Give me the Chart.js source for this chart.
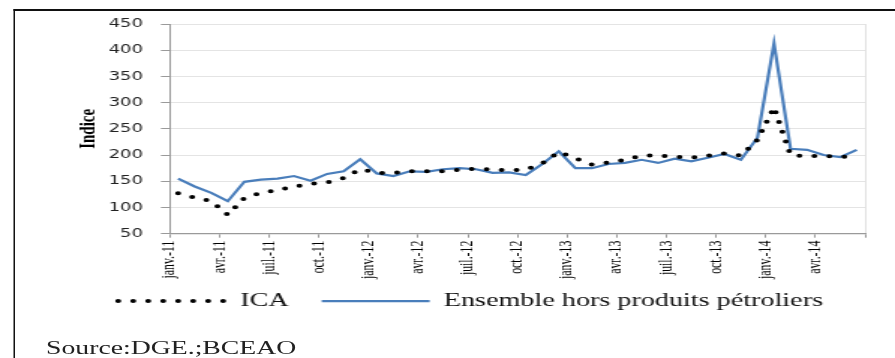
<!DOCTYPE html>
<html lang="fr">
<head>
<meta charset="utf-8">
<title>ICA et ensemble hors produits pétroliers</title>
<script src="https://cdn.jsdelivr.net/npm/chart.js@4.4.1/dist/chart.umd.min.js"></script>
<style>
  html, body { margin: 0; padding: 0; background: #fff; overflow: hidden; }
  /* the drawing is laid out narrow and widened horizontally */
  #sheet { position: absolute; left: 0; top: 0; width: 597px; height: 358px; transform: scaleX(1.49916); transform-origin: 0 0; }
  #frame { position: absolute; left: 8.7px; top: 9px; right: -5px; bottom: -5px; border-top: 2px solid #111; border-left: 1.4px solid #111; }
  #chart { position: absolute; left: 0; top: 0; }
  #source { position: absolute; left: 30.7px; top: 338px; font: 18.5px/21px "Liberation Serif", "Times New Roman", serif; color: #222; white-space: nowrap; }
</style>
</head>
<body>
<div id="sheet">
  <div id="frame"></div>
  <canvas id="chart" width="597" height="358"></canvas>
  <div id="source">Source:DGE.;BCEAO</div>
</div>
<script>
// Monthly categories, janvier 2011 to juin 2014
const months = [
  'janv.-11','févr.-11','mars-11','avr.-11','mai-11','juin-11','juil.-11','août-11','sept.-11','oct.-11','nov.-11','déc.-11',
  'janv.-12','févr.-12','mars-12','avr.-12','mai-12','juin-12','juil.-12','août-12','sept.-12','oct.-12','nov.-12','déc.-12',
  'janv.-13','févr.-13','mars-13','avr.-13','mai-13','juin-13','juil.-13','août-13','sept.-13','oct.-13','nov.-13','déc.-13',
  'janv.-14','févr.-14','mars-14','avr.-14','mai-14','juin-14'
];

// Indice du chiffre d'affaires
const ica = [
  127, 119, 112, 86, 118, 128, 133, 140, 145, 148, 156, 173,
  166, 166, 169, 169, 169, 172, 174, 172, 171, 172, 184, 206,
  194, 182, 186, 191, 199, 199, 197, 195, 199, 203, 199, 229,
  291, 200, 198, 198, 197, 197
];

// Ensemble hors produits pétroliers
const horsPetrole = [
  155, 140, 128, 112, 149, 153, 155, 160, 151, 164, 169, 192,
  165, 160, 169, 168, 173, 175, 173, 166, 167, 162, 183, 207,
  175, 175, 183, 185, 191, 185, 193, 188, 195, 202, 191, 233,
  413, 212, 210, 200, 196, 210
];

// Value axis
const yMin = 50;
const yMax = 450;
const yStep = 50;

// A label under every third month
const labelEvery = 3;

const toPoints = arr => arr.map((v, i) => ({ x: i + 0.5, y: v }));

// Legend row sits a little higher and to the right of its default place
const legendNudge = {
  id: 'legendNudge',
  afterLayout(chart) {
    const lg = chart.legend;
    if (lg) { lg.top -= 16; lg.bottom -= 16; lg.left += 3.5; lg.right += 3.5; }
  }
};

const serif = '"Liberation Serif", "Times New Roman", serif';

const ctx = document.getElementById('chart').getContext('2d');
new Chart(ctx, {
  type: 'line',
  data: {
    datasets: [
      {
        label: 'ICA',
        data: toPoints(ica),
        borderColor: '#000',
        backgroundColor: '#000',
        borderWidth: 4,
        borderDash: [0, 10],
        borderCapStyle: 'round',
        pointRadius: 0,
        tension: 0,
        fill: false
      },
      {
        label: 'Ensemble hors produits pétroliers',
        data: toPoints(horsPetrole),
        borderColor: '#4a7ebb',
        backgroundColor: '#4a7ebb',
        borderWidth: 2.2,
        borderCapStyle: 'butt',
        pointRadius: 0,
        tension: 0,
        fill: false
      }
    ]
  },
  options: {
    responsive: false,
    animation: false,
    devicePixelRatio: 1,
    layout: { padding: { left: 43.8, right: 20, top: 24, bottom: 21.5 } },
    plugins: {
      tooltip: { enabled: false },
      legend: {
        position: 'bottom',
        labels: {
          usePointStyle: true,
          pointStyle: 'line',
          pointStyleWidth: 72,
          padding: 22,
          color: '#111',
          font: { family: serif, size: 18.8 },
          // legend samples copy each series' own line style
          generateLabels: chart => Chart.defaults.plugins.legend.labels.generateLabels(chart).map(item => {
            const ds = chart.data.datasets[item.datasetIndex];
            return Object.assign(item, {
              pointStyle: 'line',
              strokeStyle: ds.borderColor,
              fillStyle: ds.borderColor,
              lineWidth: ds.borderWidth,
              lineDash: ds.borderDash || [],
              lineDashOffset: 0,
              lineCap: ds.borderCapStyle || 'butt'
            });
          })
        }
      }
    },
    scales: {
      x: {
        type: 'linear',
        min: 0,
        max: months.length,
        ticks: {
          stepSize: labelEvery,
          autoSkip: false,
          maxRotation: 90,
          minRotation: 90,
          padding: 3,
          color: '#000',
          font: { family: serif, size: 11.8 },
          callback: v => (v % labelEvery === 0 && v < months.length) ? months[v] : ''
        },
        grid: {
          color: c => (c.tick && c.tick.value === months.length) ? '#e2e2e2' : 'rgba(0,0,0,0)',
          tickColor: '#9a9a9a',
          tickLength: 4
        },
        border: { color: '#9a9a9a', width: 1.3 },
        afterFit: s => { s.height = 52; s.paddingLeft = 0; s.paddingRight = 0; }
      },
      y: {
        min: yMin,
        max: yMax,
        ticks: {
          stepSize: yStep,
          padding: 12,
          color: '#222',
          font: { family: '"DejaVu Sans", Verdana, sans-serif', size: 12 }
        },
        grid: { color: '#e4e4e4', tickColor: '#9a9a9a', tickLength: 6 },
        border: { color: '#9a9a9a', width: 1 },
        title: {
          display: true,
          text: 'Indice',
          color: '#000',
          font: { family: serif, size: 15, weight: 'bold' },
          padding: { top: 6.5, bottom: 0 }
        },
        afterFit: s => { s.width = 69.5; s.paddingTop = 0; s.paddingBottom = 0; }
      }
    }
  },
  plugins: [legendNudge]
});
</script>
</body>
</html>
